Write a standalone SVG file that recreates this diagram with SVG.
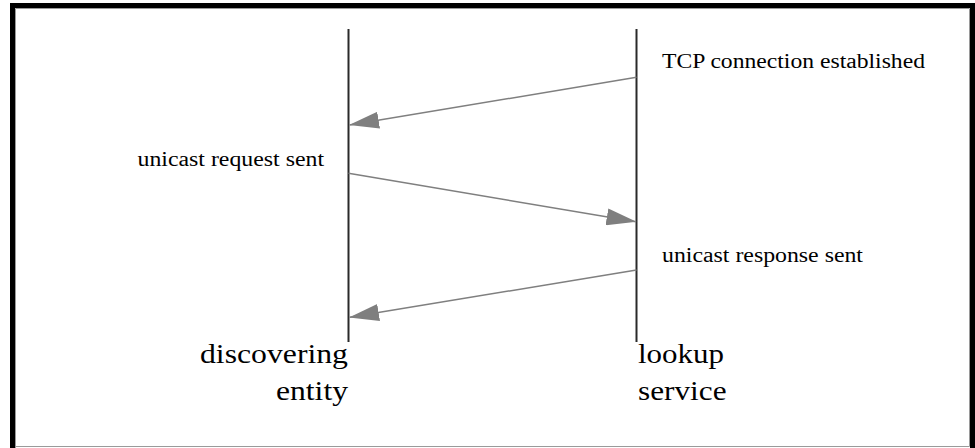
<svg xmlns="http://www.w3.org/2000/svg" width="975" height="448" viewBox="0 0 975 448">
  <style>
    .lifeline { stroke: #2a2a2a; stroke-width: 2; fill: none; }
    .msg { stroke: #7f7f7f; stroke-width: 1.5; fill: none; marker-end: url(#head); }
    .small { font-family: "Liberation Serif", "Times New Roman", serif; font-size: 20px; fill: #000; }
    .big { font-family: "Liberation Serif", "Times New Roman", serif; font-size: 27px; fill: #000; }
  </style>
  <defs>
    <marker id="head" markerUnits="userSpaceOnUse" markerWidth="30" markerHeight="17" refX="29.5" refY="8.5" orient="auto">
      <path d="M0,0 L30,8.5 L0,17 Z" fill="#7f7f7f"/>
    </marker>
  </defs>

  <rect width="975" height="448" fill="#fff"/>

  <!-- frame -->
  <g id="frame">
    <path d="M10,448 V3 H975 V8 H15 V448 Z" fill="#000"/>
    <rect x="970" y="3" width="5" height="445" fill="#000"/>
    <path d="M15.5,448 V8.5 H969.5 V446.5 H15" stroke="#9a9a9a" stroke-width="1" fill="none"/>
  </g>

  <!-- discovering entity -->
  <g id="discovering-entity">
    <line class="lifeline" x1="348.5" y1="29" x2="348.5" y2="342"/>
    <text class="big" x="348" y="362.5" text-anchor="end" textLength="148" lengthAdjust="spacingAndGlyphs">discovering</text>
    <text class="big" x="348" y="399.5" text-anchor="end" textLength="72" lengthAdjust="spacingAndGlyphs">entity</text>
  </g>

  <!-- lookup service -->
  <g id="lookup-service">
    <line class="lifeline" x1="636.5" y1="29" x2="636.5" y2="342"/>
    <text class="big" x="638" y="362.5" textLength="86" lengthAdjust="spacingAndGlyphs">lookup</text>
    <text class="big" x="638" y="399.5" textLength="88.5" lengthAdjust="spacingAndGlyphs">service</text>
  </g>

  <!-- messages -->
  <g id="connectors">
    <line class="msg" x1="636.5" y1="77.3" x2="349.5" y2="125"/>
    <line class="msg" x1="348.5" y1="173.3" x2="636" y2="221.7"/>
    <line class="msg" x1="636.5" y1="270" x2="349.5" y2="317.3"/>
  </g>

  <!-- event labels -->
  <g id="labels">
    <text class="small" x="662" y="68.3" textLength="263" lengthAdjust="spacingAndGlyphs">TCP connection established</text>
    <text class="small" x="137.5" y="166" textLength="186.5" lengthAdjust="spacingAndGlyphs">unicast request sent</text>
    <text class="small" x="662" y="262.3" textLength="201" lengthAdjust="spacingAndGlyphs">unicast response sent</text>
  </g>
</svg>
